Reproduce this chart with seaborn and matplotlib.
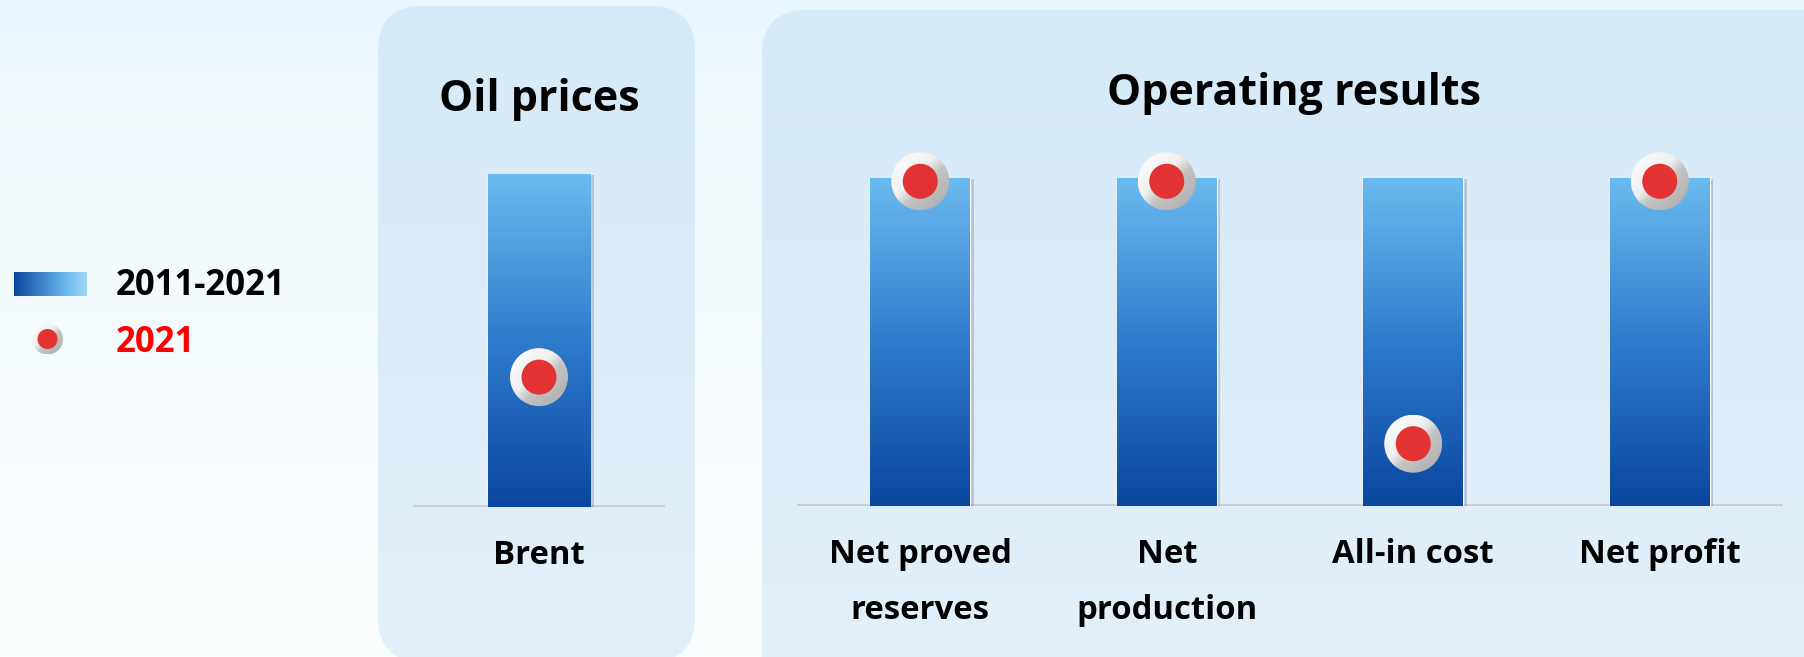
import numpy as np
import pandas as pd
import matplotlib
matplotlib.use("Agg")
import matplotlib.pyplot as plt
import seaborn as sns
from matplotlib.patches import FancyBboxPatch, Circle
from matplotlib import patheffects
from matplotlib.colors import LinearSegmentedColormap

# ---- data (values indexed to the 2011-2021 range, bar top = 100) ----
oil_categories = ["Brent"]
oil_range = [100]
oil_2021 = [39]

ops_categories = ["Net proved\nreserves", "Net\nproduction", "All-in cost", "Net profit"]
ops_range = [100, 100, 100, 100]
ops_2021 = [99, 99, 19, 99]

panel_titles = ["Oil prices", "Operating results"]
legend_labels = ["2011-2021", "2021"]

W, H = 1804, 657
sns.set_theme(style="white")
plt.rcParams["font.family"] = ["Open Sans", "DejaVu Sans"]
plt.rcParams["font.weight"] = "bold"

fig = plt.figure(figsize=(W / 100, H / 100), dpi=100)

bar_cmap = LinearSegmentedColormap.from_list("bar", ["#0a46a0", "#2f7bcc", "#6bbaef"])
legend_cmap = LinearSegmentedColormap.from_list(
    "leg", [(0, "#0a46a0"), (0.72, "#6bbaef"), (1, "#a4d6f4")])
ring_cmap = LinearSegmentedColormap.from_list(
    "ring", [(0, "#ffffff"), (0.42, "#f0f0f0"), (0.58, "#c4c4c4"), (1, "#a9a9a9")])


def pixel_axes(zorder):
    a = fig.add_axes([0, 0, 1, 1], zorder=zorder)
    a.axis("off")
    a.patch.set_alpha(0)
    return a


def fix_limits(a):
    a.set_xlim(0, W)
    a.set_ylim(H, 0)
    a.set_aspect("auto")


# ---- background and rounded panels ----
bg = pixel_axes(0)
yy = np.linspace(0, 1, 200)[:, None]
xx = np.linspace(0, 1, 300)[None, :]
c_top = np.array([233, 246, 253]) / 255
c_bot = np.array([251, 254, 255]) / 255
t = np.clip(yy * 0.75 + 0.25 + 0 * xx, 0, 1)
t[:40] = np.linspace(0, 0.55, 40)[:, None]
bg.imshow(c_top + (c_bot - c_top) * t[..., None], extent=(0, W, H, 0), aspect="auto")

p_top = np.array([214, 234, 248]) / 255
p_bot = np.array([228, 240, 249]) / 255
pgrad = p_top + (p_bot - p_top) * np.linspace(0, 1, 200)[:, None, None] * np.ones((1, 2, 1))


def panel(x0, y0, x1, y1, r=45):
    p = FancyBboxPatch((x0 + r, y0 + r), x1 - x0 - 2 * r, y1 - y0 - 2 * r,
                       boxstyle=f"round,pad={r},rounding_size={r}",
                       fc="none", ec="none")
    bg.add_patch(p)
    im = bg.imshow(pgrad, extent=(x0, x1, y1, y0), aspect="auto")
    im.set_clip_path(p)


panel(378, 6, 695, 662)
panel(762, 10, 1860, 700)
fix_limits(bg)

# ---- bar panels ----
ax_oil = fig.add_axes([413 / W, 1 - 507 / H, 252 / W, 333 / H], zorder=1)
ax_ops = fig.add_axes([797 / W, 1 - 506 / H, 986 / W, 328 / H], zorder=1)

shadow = [patheffects.SimplePatchShadow(offset=(2.5, -1.0), shadow_rgbFace="#5f6b78", alpha=0.3),
          patheffects.Normal()]
vgrad = np.linspace(1, 0, 256)[:, None]

for ax, cats, rng in [(ax_oil, oil_categories, oil_range), (ax_ops, ops_categories, ops_range)]:
    df = pd.DataFrame({"cat": cats, "val": rng})
    sns.barplot(data=df, x="cat", y="val", width=0.405, color="#0a46a0",
                saturation=1, ax=ax, zorder=2)
    ax.axhline(0, color="#c9cbcd", lw=2.6, zorder=1)
    for bar in ax.patches:
        bar.set_path_effects(shadow)
        bx, bw, bh = bar.get_x(), bar.get_width(), bar.get_height()
        im = ax.imshow(vgrad, cmap=bar_cmap, vmin=0, vmax=1,
                       extent=(bx, bx + bw, 0, bh), aspect="auto", zorder=3)
        im.set_clip_path(bar)
    ax.set_xlim(-0.5, len(cats) - 0.5)
    ax.set_ylim(0, 100)
    ax.set_aspect("auto")
    ax.patch.set_alpha(0)
    for s in ax.spines.values():
        s.set_visible(False)
    ax.set_yticks([])
    ax.set_xlabel("")
    ax.set_ylabel("")
    ax.tick_params(axis="x", length=0, pad=23, labelsize=23.7)
    for lbl in ax.get_xticklabels():
        lbl.set_fontweight("bold")
        lbl.set_linespacing(1.92)
        lbl.set_color("#000000")

# ---- overlay: 2021 markers, titles, legend ----
ov = pixel_axes(3)
fix_limits(ov)
rgrid = np.add.outer(np.arange(64), np.arange(64)) / 126.0


def ring_marker(cx, cy, R, r):
    outer = Circle((cx, cy), R, fc="none", ec="none")
    ov.add_patch(outer)
    im = ov.imshow(rgrid, cmap=ring_cmap, vmin=0, vmax=1,
                   extent=(cx - R, cx + R, cy + R, cy - R), aspect="auto", zorder=4)
    im.set_clip_path(outer)
    ov.add_patch(Circle((cx, cy), r, fc="#e23234", ec="none", zorder=5))


for ax, vals in [(ax_oil, oil_2021), (ax_ops, ops_2021)]:
    for i, v in enumerate(vals):
        dx, dy = ax.transData.transform((i, v))
        px, py = ov.transData.inverted().transform((dx, dy))
        ring_marker(px, py, 29, 17.5)

ov.text(539, 111, panel_titles[0], ha="center", va="baseline", fontsize=31,
        fontweight="bold", color="#000000")
ov.text(1294, 105, panel_titles[1], ha="center", va="baseline", fontsize=31,
        fontweight="bold", color="#000000")

ov.imshow(np.linspace(0, 1, 256)[None, :], cmap=legend_cmap, vmin=0, vmax=1,
          extent=(14, 87, 296, 272), aspect="auto", zorder=4)
ring_marker(47.5, 339, 15.5, 10)
ov.text(116, 295, legend_labels[0], ha="left", va="baseline", fontsize=25,
        fontweight="bold", color="#000000")
ov.text(116, 352, legend_labels[1], ha="left", va="baseline", fontsize=25,
        fontweight="bold", color="#ff0000")
fix_limits(ov)

fig.savefig("out.png", dpi=100)
